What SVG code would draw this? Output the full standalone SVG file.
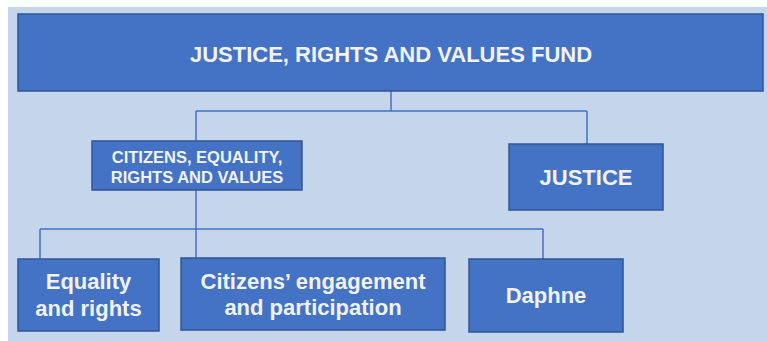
<svg xmlns="http://www.w3.org/2000/svg" width="767" height="341" viewBox="0 0 767 341">
<style>
.box{fill:#4472C4;stroke:#2F5597;stroke-width:1.5}
.t{font-family:"Liberation Sans",Arial,sans-serif;font-weight:bold;fill:#F2F2F2;text-anchor:middle}
.big{font-size:22px}
.small{font-size:16.5px}
.conn{fill:none;stroke:#4472C4;stroke-width:1.5}
</style>
<rect x="0" y="0" width="767" height="341" fill="#FFFFFF"/>
<rect x="8" y="7" width="759" height="334" fill="#C5D6EC"/>
<g id="connectors">
<path class="conn" d="M391,91 V111 M196,111 H587 M196,111 V141 M587,111 V144"/>
<path class="conn" d="M196,190 V258 M40,229 H543 M40,229 V259 M543,229 V259"/>
</g>
<g id="fund">
<rect class="box" x="18" y="14" width="745" height="77"/>
<text class="t big" x="391" y="61.5">JUSTICE, RIGHTS AND VALUES FUND</text>
</g>
<g id="cerv">
<rect class="box" x="92" y="141" width="210" height="49"/>
<text class="t small" x="197" y="163">CITIZENS, EQUALITY,</text>
<text class="t small" x="197" y="183">RIGHTS AND VALUES</text>
</g>
<g id="justice">
<rect class="box" x="509" y="144" width="154" height="66"/>
<text class="t big" x="586" y="185">JUSTICE</text>
</g>
<g id="equality">
<rect class="box" x="18" y="259" width="141" height="72"/>
<text class="t big" x="88.5" y="289">Equality</text>
<text class="t big" x="88.5" y="316">and rights</text>
</g>
<g id="citizens">
<rect class="box" x="181" y="258" width="264" height="72"/>
<text class="t big" x="313" y="289">Citizens’ engagement</text>
<text class="t big" x="313" y="315">and participation</text>
</g>
<g id="daphne">
<rect class="box" x="469" y="259" width="154" height="73"/>
<text class="t big" x="546" y="303">Daphne</text>
</g>
</svg>
